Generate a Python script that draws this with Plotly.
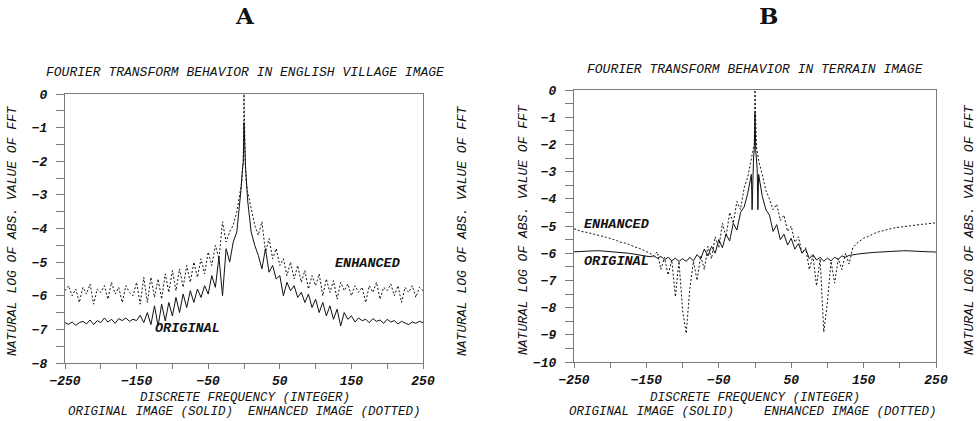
import plotly.graph_objects as go

# ---------------- data ----------------
FREQ = (list(range(-250, -5, 5)) + [-5, -4, -3, -2, -1, 0, 1, 2, 3, 4, 5]
        + list(range(10, 251, 5)))

A_ORIGINAL = [
    -6.80, -6.85, -6.78, -6.88, -6.80, -6.76, -6.84, -6.72, -6.86, -6.74,
    -6.80, -6.66, -6.78, -6.70, -6.82, -6.68, -6.74, -6.66, -6.76, -6.70,
    -6.74, -6.58, -6.80, -6.50, -6.86, -6.30, -6.90, -6.25, -6.75, -6.20,
    -6.60, -6.05, -6.50, -5.95, -6.35, -5.85, -6.20, -5.80, -6.05, -5.70,
    -5.95, -5.40, -5.75, -4.85, -6.00, -4.60, -5.00, -4.40, -4.10,
    -3.10, -2.80, -2.45, -2.10, -2.00, -0.85, -2.00, -2.10, -2.45, -2.85, -3.15,
    -4.10, -4.50, -4.80, -5.20, -4.60, -5.30, -5.10, -5.50, -5.40, -6.00,
    -5.60, -5.85, -5.70, -6.05, -5.90, -6.20, -5.95, -6.35, -6.10, -6.50,
    -6.20, -6.60, -6.30, -6.70, -6.40, -6.90, -6.50, -6.70, -6.60, -6.78,
    -6.66, -6.74, -6.70, -6.80, -6.68, -6.76, -6.72, -6.82, -6.70, -6.78,
    -6.74, -6.84, -6.76, -6.80, -6.86, -6.78, -6.82, -6.76, -6.80,
]

A_ENHANCED = [
    -5.85, -5.70, -6.00, -5.80, -6.20, -5.75, -5.95, -5.65, -6.25, -5.80,
    -5.90, -5.70, -6.10, -5.60, -5.95, -5.75, -6.20, -5.70, -5.90, -6.00,
    -5.60, -6.25, -5.45, -6.20, -5.45, -6.05, -5.50, -6.10, -5.35, -5.90,
    -5.25, -5.85, -5.20, -5.75, -5.10, -5.60, -5.00, -5.45, -4.90, -5.35,
    -4.70, -5.10, -4.50, -4.90, -3.80, -4.40, -4.10, -3.90, -3.50,
    -2.85, -2.75, -2.60, -2.20, -2.05, 0.00, -2.05, -2.20, -2.60, -2.75, -2.90,
    -3.40, -3.90, -4.20, -3.80, -4.70, -4.30, -4.90, -4.60, -5.10, -4.90,
    -5.40, -5.00, -5.50, -5.10, -5.60, -5.25, -5.80, -5.40, -5.70, -5.35,
    -6.00, -5.50, -5.90, -5.55, -6.10, -5.60, -5.85, -5.65, -6.00, -5.70,
    -5.90, -5.75, -6.20, -5.70, -5.90, -5.60, -6.10, -5.75, -5.85, -5.65,
    -6.00, -5.70, -6.20, -5.75, -5.90, -5.70, -6.05, -5.75, -5.85,
]

B_ORIGINAL = [
    -5.95, -5.94, -5.93, -5.92, -5.92, -5.91, -5.91, -5.91, -5.92, -5.92,
    -5.93, -5.94, -5.95, -5.97, -5.98, -6.00, -6.02, -6.04, -6.06, -6.08,
    -6.10, -6.13, -6.10, -6.18, -6.12, -6.24, -6.15, -6.28, -6.18, -6.30,
    -6.20, -6.30, -6.15, -6.28, -6.05, -6.20, -5.85, -6.10, -5.75, -6.00,
    -5.50, -5.80, -5.30, -5.55, -4.90, -5.15, -4.50, -4.30, -3.80,
    -3.10, -4.40, -2.90, -2.50, -2.20, -0.85, -2.20, -2.50, -2.90, -4.40, -3.10,
    -3.90, -4.40, -4.60, -5.20, -4.95, -5.50, -5.30, -5.70, -5.45, -5.85,
    -5.65, -6.00, -5.85, -6.20, -6.05, -6.25, -6.15, -6.30, -6.18, -6.28,
    -6.15, -6.22, -6.10, -6.15, -6.08, -6.05, -6.04, -6.02, -6.00, -5.99,
    -5.98, -5.97, -5.96, -5.95, -5.94, -5.93, -5.92, -5.92, -5.91, -5.91,
    -5.91, -5.92, -5.92, -5.93, -5.93, -5.94, -5.95, -5.95, -5.96,
]

B_ENHANCED = [
    -5.10, -5.15, -5.20, -5.22, -5.25, -5.28, -5.30, -5.35, -5.38, -5.42,
    -5.45, -5.50, -5.55, -5.60, -5.62, -5.68, -5.72, -5.78, -5.82, -5.88,
    -5.95, -6.00, -6.10, -5.95, -6.60, -6.15, -6.80, -6.25, -7.60, -6.30,
    -8.10, -8.95, -7.30, -6.30, -7.00, -6.10, -6.60, -5.75, -6.20, -5.40,
    -5.80, -4.90, -5.40, -4.50, -4.90, -4.10, -4.40, -3.60, -3.20,
    -2.60, -2.45, -2.25, -2.10, -2.00, 0.00, -2.00, -2.10, -2.25, -2.45, -2.60,
    -3.10, -3.70, -4.00, -4.40, -4.20, -4.80, -4.60, -5.20, -5.00, -5.60,
    -5.40, -6.00, -5.80, -6.60, -6.10, -7.20, -6.20, -8.90, -7.80, -6.30,
    -7.10, -6.20, -6.60, -6.00, -6.40, -5.80, -5.65, -5.55, -5.45, -5.40,
    -5.32, -5.27, -5.22, -5.18, -5.14, -5.11, -5.08, -5.06, -5.04, -5.02,
    -5.00, -4.99, -4.97, -4.96, -4.94, -4.93, -4.92, -4.90, -4.88,
]

X_TICKS = [-250, -200, -150, -100, -50, 0, 50, 100, 150, 200, 250]
X_TICK_TEXT = ["\u2212250", "", "\u2212150", "", "\u221250", "", "50", "", "150", "", "250"]

# ---------------- styling ----------------
W, H = 977, 421
MONO = "Liberation Mono"
SERIF = "DejaVu Serif"
INK = "#111111"
FRAME = "#7a7a7a"


def px_x(p):
    return p / W


def px_y(p):
    return 1 - p / H


fig = go.Figure()

for xa, ya, orig, enh in [("x", "y", A_ORIGINAL, A_ENHANCED),
                           ("x2", "y2", B_ORIGINAL, B_ENHANCED)]:
    fig.add_trace(go.Scatter(x=FREQ, y=enh, mode="lines", xaxis=xa, yaxis=ya,
                             line=dict(color=INK, width=1, dash="2px,2px"),
                             showlegend=False, hoverinfo="skip"))
    fig.add_trace(go.Scatter(x=FREQ, y=orig, mode="lines", xaxis=xa, yaxis=ya,
                             line=dict(color=INK, width=1),
                             showlegend=False, hoverinfo="skip"))

tickfont = dict(family=MONO, size=13, color=INK, style="italic", weight="bold")


def xaxis_cfg(d0, d1, anchor):
    return dict(domain=[px_x(d0), px_x(d1)], range=[-250, 250], anchor=anchor,
                tickvals=X_TICKS, ticktext=X_TICK_TEXT, ticks="outside",
                ticklen=5, tickcolor=FRAME, showline=True, linecolor=FRAME,
                linewidth=1, mirror=True, showgrid=False, zeroline=False,
                tickfont=tickfont, ticklabelstandoff=0, automargin=False)


def yaxis_cfg(d0, d1, ymin, anchor):
    vals = [v / 2 for v in range(2 * ymin, 1)]
    text = [("\u2212" + str(int(-v)) if v < 0 else "0") if v == int(v) else "" for v in vals]
    return dict(domain=[px_y(d1), px_y(d0)], range=[ymin, 0], anchor=anchor,
                tickvals=vals, ticktext=text, ticks="outside", ticklen=8,
                tickcolor=FRAME, showline=True, linecolor=FRAME, linewidth=1,
                mirror=True, showgrid=False, zeroline=False, tickfont=tickfont,
                ticklabelstandoff=6, automargin=False)


fig.update_layout(
    width=W, height=H, autosize=False,
    margin=dict(l=0, r=0, t=0, b=0, pad=0, autoexpand=False),
    paper_bgcolor="white", plot_bgcolor="white",
    xaxis=xaxis_cfg(65, 423, "y"),
    yaxis=yaxis_cfg(94, 363, -8, "x"),
    xaxis2=xaxis_cfg(574, 936, "y2"),
    yaxis2=yaxis_cfg(90, 362, -10, "x2"),
)

ann = []


def paper_text(text, x, y, size=13, angle=0, bold=False, italic=True, family=MONO):
    ann.append(dict(text=text, x=px_x(x), y=px_y(y), xref="paper", yref="paper",
                    showarrow=False, textangle=angle, xanchor="center", yanchor="middle",
                    borderpad=0,
                    font=dict(family=family, size=size, color=INK,
                              style="italic" if italic else "normal",
                              weight="bold" if bold else "normal")))


# panel letters
paper_text("A", 245, 15, size=23, bold=True, italic=False, family=SERIF)
paper_text("B", 768, 15, size=23, bold=True, italic=False, family=SERIF)
# subtitles
paper_text("FOURIER TRANSFORM BEHAVIOR IN ENGLISH VILLAGE IMAGE", 245, 72, size=13)
paper_text("FOURIER TRANSFORM BEHAVIOR IN TERRAIN IMAGE", 755, 69, size=13)
# x titles
paper_text("DISCRETE FREQUENCY (INTEGER)", 245, 398, size=12.5)
paper_text("ORIGINAL IMAGE (SOLID)  ENHANCED IMAGE (DOTTED)", 245, 411.5, size=12.5)
paper_text("DISCRETE FREQUENCY (INTEGER)", 755, 398, size=12.5)
paper_text("ORIGINAL IMAGE (SOLID)    ENHANCED IMAGE (DOTTED)", 753, 411.5, size=12.5)
# rotated y titles
for xc, yc in [(12, 231), (462, 231), (523, 230), (969, 230)]:
    paper_text("NATURAL LOG OF ABS. VALUE OF FFT", xc, yc, size=13, angle=-90)

# series labels inside the plots
lab = dict(family=MONO, size=13.5, color=INK, style="italic", weight="bold")
ann.append(dict(text="ENHANCED", x=124, y=-5.03, xref="x", yref="y", showarrow=False,
                xanchor="left", yanchor="middle", font=lab))
ann.append(dict(text="ORIGINAL", x=-127, y=-6.96, xref="x", yref="y", showarrow=False,
                xanchor="left", yanchor="middle", font=lab))
ann.append(dict(text="ENHANCED", x=-239, y=-4.96, xref="x2", yref="y2", showarrow=False,
                xanchor="left", yanchor="middle", font=lab))
ann.append(dict(text="ORIGINAL", x=-239, y=-6.32, xref="x2", yref="y2", showarrow=False,
                xanchor="left", yanchor="middle", font=lab))

fig.update_layout(annotations=ann)

POST = ("var d=document.documentElement,b=document.body;"
        "d.style.margin='0';d.style.padding='0';d.style.overflow='hidden';"
        "b.style.margin='0';b.style.padding='0';b.style.overflow='hidden';"
        "b.style.height='421px';")

fig.write_html("out.html", config={"displayModeBar": False}, post_script=POST)
